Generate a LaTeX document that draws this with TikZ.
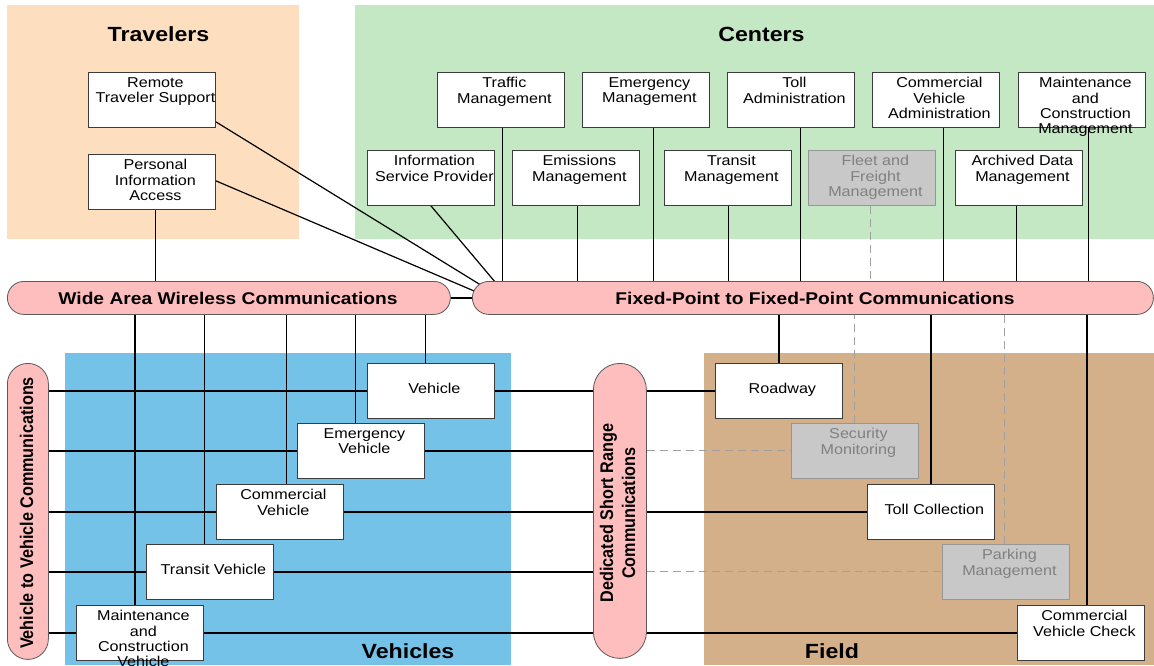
\documentclass[tikz,border=0pt]{standalone}
\usepackage{fontspec}
\usepackage{graphicx}
\setmainfont{Liberation Sans}
\newfontfamily\wsans{Liberation Sans}[FakeStretch=1.13]
\pgfdeclarelayer{bg}\pgfdeclarelayer{wires}\pgfsetlayers{bg,wires,main}
\definecolor{travbg}{RGB}{253,223,192}
\definecolor{centbg}{RGB}{196,231,196}
\definecolor{vehbg}{RGB}{117,194,232}
\definecolor{fieldbg}{RGB}{212,176,138}
\definecolor{busfill}{RGB}{255,190,190}
\definecolor{busline}{RGB}{90,90,90}
\definecolor{boxline}{RGB}{60,60,60}
\definecolor{gfill}{RGB}{200,200,200}
\definecolor{gline}{RGB}{150,150,150}
\definecolor{gtext}{RGB}{128,128,128}
\definecolor{dashc}{RGB}{160,160,160}
\newcommand\boxfnt{\wsans\fontsize{14.3}{15.3}\selectfont}
\newcommand\busfnt{\wsans\bfseries\fontsize{17}{18}\selectfont}
\newcommand\ttlfnt{\wsans\bfseries\fontsize{20.5}{22}\selectfont}
\newcommand\vbusfnt{\bfseries\fontsize{16.2}{18}\selectfont}
\tikzset{
  box/.style={draw=boxline, line width=0.8pt, fill=white, minimum width=127pt, minimum height=55pt, inner sep=0pt, anchor=north west},
  gbox/.style={box, draw=gline, fill=gfill},
  btext/.style={font=\boxfnt, align=center, inner sep=0pt, anchor=north, execute at begin node=\strut},
  gtxt/.style={btext, text=gtext},
  ctext/.style={btext, anchor=center},
  bus/.style={draw=busline, line width=0.8pt, fill=busfill, inner sep=0pt, anchor=north west},
  bustext/.style={font=\busfnt, anchor=base, inner sep=0pt},
  vtext/.style={rotate=90, anchor=base, inner sep=0pt},
  wire/.style={draw=black, line width=1.2pt},
  dwire/.style={draw=dashc, line width=1pt, dash pattern=on 8pt off 5pt},
  title/.style={font=\ttlfnt, anchor=base, inner sep=0pt}
}
\begin{document}
\begin{tikzpicture}[x=1pt,y=-1pt]
\useasboundingbox (0,0) rectangle (1154,665);
\begin{pgfonlayer}{bg}
  \fill[white] (0,0) rectangle (1154,665);
  \fill[travbg] (7,5) rectangle (299,239);
  \fill[centbg] (355,5) rectangle (1154,239);
  \fill[vehbg] (65,353) rectangle (511,665);
  \fill[fieldbg] (704,353) rectangle (1154,665);
\end{pgfonlayer}

% titles
\node[title] (travT) at (158.5,41) {Travelers};
\node[title] (centT) at (761.5,41) {Centers};
\node[title] (vehT) at (408,658) {Vehicles};
\node[title] (fieldT) at (832,658) {Field};

% buses
\node[bus, minimum width=443pt, minimum height=33pt, rounded corners=16.5pt] (waw) at (7,281) {};
\node[bus, minimum width=681pt, minimum height=33pt, rounded corners=16.5pt] (fp) at (472,281) {};
\node[bus, minimum width=41pt, minimum height=296pt, rounded corners=20.5pt] (v2v) at (7,363) {};
\node[bus, minimum width=53pt, minimum height=295pt, rounded corners=26.5pt] (dsrc) at (593,363) {};
\node[bustext] (wawT) at (228,304.5) {Wide Area Wireless Communications};
\node[bustext] (fpT) at (815,304.5) {Fixed-Point to Fixed-Point Communications};
\node[vtext] (v2vT) at (33,513) {\scalebox{1}[1.13]{\vbusfnt Vehicle to Vehicle Communications}};
\node[vtext] (dsrcT1) at (613,513) {\scalebox{1}[1.13]{\vbusfnt Dedicated Short Range}};
\node[vtext] (dsrcT2) at (635,513) {\scalebox{1}[1.13]{\vbusfnt Communications}};

% travelers
\node[box] (rts) at (88,72) {};
\node[box] (pia) at (88,154) {};
% centers
\node[box] (tm) at (437,72) {};
\node[box] (em) at (582,72) {};
\node[box] (ta) at (727,72) {};
\node[box] (cva) at (872,72) {};
\node[box] (mcm) at (1018,72) {};
\node[box] (isp) at (367,150) {};
\node[box] (emi) at (512,150) {};
\node[box] (trm) at (664,150) {};
\node[gbox] (ffm) at (808,150) {};
\node[box] (adm) at (955,150) {};
% vehicles
\node[box] (veh) at (367,363) {};
\node[box] (ev) at (297,423) {};
\node[box] (cv) at (216,484) {};
\node[box] (tv) at (146,544) {};
\node[box] (mcv) at (76,605) {};
% field
\node[box] (rw) at (715,363) {};
\node[gbox] (sm) at (791,423) {};
\node[box] (tc) at (867,484) {};
\node[gbox] (pm) at (942,544) {};
\node[box] (cvc) at (1017,605) {};

% box texts
\node[btext] (rtsT) at ([xshift=3.5pt,yshift=-5.3pt]rts.north) {Remote\\Traveler Support};
\node[btext] (piaT) at ([xshift=3.5pt,yshift=-5.3pt]pia.north) {Personal\\Information\\Access};
\node[btext] (tmT) at ([xshift=3.5pt,yshift=-5.3pt]tm.north) {Traffic\\Management};
\node[btext] (emT) at ([xshift=3.5pt,yshift=-5.3pt]em.north) {Emergency\\Management};
\node[btext] (taT) at ([xshift=3.5pt,yshift=-5.3pt]ta.north) {Toll\\Administration};
\node[btext] (cvaT) at ([xshift=3.5pt,yshift=-5.3pt]cva.north) {Commercial\\Vehicle\\Administration};
\node[btext] (mcmT) at ([xshift=3.5pt,yshift=-5.3pt]mcm.north) {Maintenance\\and\\Construction\\Management};
\node[btext] (ispT) at ([xshift=3.5pt,yshift=-5.3pt]isp.north) {Information\\Service Provider};
\node[btext] (emiT) at ([xshift=3.5pt,yshift=-5.3pt]emi.north) {Emissions\\Management};
\node[btext] (trmT) at ([xshift=3.5pt,yshift=-5.3pt]trm.north) {Transit\\Management};
\node[gtxt] (ffmT) at ([xshift=3.5pt,yshift=-5.3pt]ffm.north) {Fleet and\\Freight\\Management};
\node[btext] (admT) at ([xshift=3.5pt,yshift=-5.3pt]adm.north) {Archived Data\\Management};
\node[ctext] (vehBT) at ([xshift=3.5pt]veh.center) {Vehicle};
\node[btext] (evT) at ([xshift=3.5pt,yshift=-5.3pt]ev.north) {Emergency\\Vehicle};
\node[btext] (cvT) at ([xshift=3.5pt,yshift=-5.3pt]cv.north) {Commercial\\Vehicle};
\node[ctext] (tvT) at ([xshift=3.5pt]tv.center) {Transit Vehicle};
\node[btext] (mcvT) at ([xshift=3.5pt,yshift=-5.3pt]mcv.north) {Maintenance\\and\\Construction\\Vehicle};
\node[ctext] (rwT) at ([xshift=3.5pt]rw.center) {Roadway};
\node[gtxt] (smT) at ([xshift=3.5pt,yshift=-5.3pt]sm.north) {Security\\Monitoring};
\node[ctext] (tcT) at ([xshift=3.5pt]tc.center) {Toll Collection};
\node[gtxt] (pmT) at ([xshift=3.5pt,yshift=-5.3pt]pm.north) {Parking\\Management};
\node[btext] (cvcT) at ([xshift=3.5pt,yshift=-5.3pt]cvc.north) {Commercial\\Vehicle Check};

% connector end points
\coordinate (piaB) at ([xshift=3.5pt]pia.south);
\coordinate (rtsR) at ([yshift=6pt]rts.south east);
\coordinate (piaR) at ([yshift=29pt]pia.south east);
\coordinate (fpA) at (484,287);
\coordinate (fpB) at (480,293.5);
\coordinate (fpC) at (501,289);
\coordinate (tmB) at ([xshift=1.5pt]tm.south);
\coordinate (emiB) at ([xshift=1.5pt]emi.south);
\coordinate (emB) at ([xshift=7.5pt]em.south);
\coordinate (trmB) at ([xshift=0.5pt]trm.south);
\coordinate (taB) at ([xshift=9.5pt]ta.south);
\coordinate (ffmB) at ([xshift=-1pt]ffm.south);
\coordinate (cvaB) at ([xshift=7.5pt]cva.south);
\coordinate (admB) at ([xshift=-2.5pt]adm.south);
\coordinate (mcmB) at ([xshift=6.5pt]mcm.south);
\coordinate (mcvU) at ([xshift=-5pt]mcv.north);
\coordinate (tvU) at ([xshift=-5.5pt]tv.north);
\coordinate (cvU) at ([xshift=6.5pt]cv.north);
\coordinate (evU) at ([xshift=-5.5pt]ev.north);
\coordinate (vehU) at ([xshift=-5.5pt]veh.north);
\coordinate (pmU) at ([xshift=-1pt]pm.north);
\coordinate (cvcU) at ([xshift=6pt]cvc.north);

\begin{pgfonlayer}{wires}
  \draw[wire] (piaB) -- (piaB |- waw.center);
  \draw[wire] (rtsR) -- (fpA);
  \draw[wire] (piaR) -- (fpB);
  \draw[wire] (isp.south) -- (fpC);
  \draw[wire] (waw.east) -- (fp.west);
  \foreach \c in {tmB,emiB,emB,trmB,taB,cvaB,admB,mcmB}
    \draw[wire] (\c) -- (\c |- fp.center);
  \draw[dwire] (ffmB) -- (ffmB |- fp.north);
  \foreach \c in {mcvU,tvU,cvU,evU,vehU}
    \draw[wire] (\c) -- (\c |- waw.center);
  \draw[wire] (rw.north) -- (rw.north |- fp.center);
  \draw[dwire] (sm.north) -- (sm.north |- fp.south);
  \draw[wire] (tc.north) -- (tc.north |- fp.center);
  \draw[dwire] (pmU) -- (pmU |- fp.south);
  \draw[wire] (cvcU) -- (cvcU |- fp.center);
  \foreach \b in {veh,ev,cv,tv,mcv}
    \draw[wire] (v2v.center |- \b.center) -- (dsrc.center |- \b.center);
  \draw[wire] (dsrc.center |- rw.center) -- (rw.west);
  \draw[dwire] (dsrc.east |- sm.center) -- (sm.west);
  \draw[wire] (dsrc.center |- tc.center) -- (tc.west);
  \draw[dwire] (dsrc.east |- pm.center) -- (pm.west);
  \draw[wire] (dsrc.center |- cvc.center) -- (cvc.west);
\end{pgfonlayer}
\end{tikzpicture}
\end{document}
